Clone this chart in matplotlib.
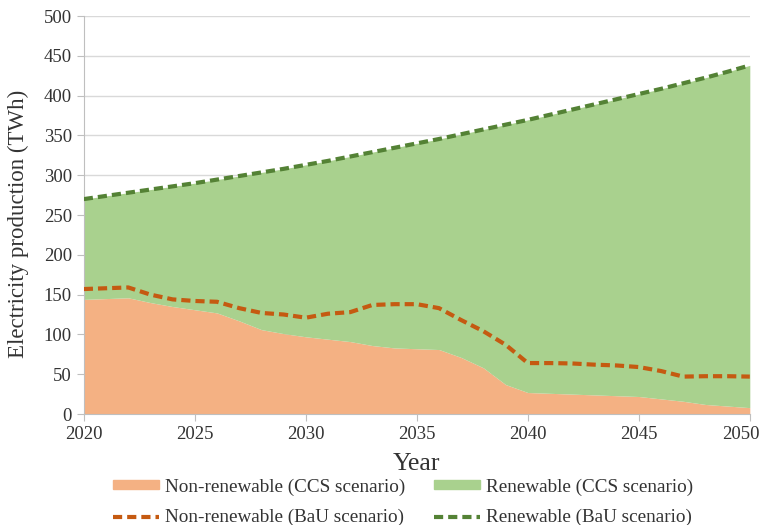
import numpy as np
import matplotlib.pyplot as plt
from matplotlib.patches import Patch
from matplotlib.lines import Line2D
from matplotlib.transforms import ScaledTranslation

plt.rcParams['font.family'] = ['Liberation Serif', 'DejaVu Serif']

# Electricity production (TWh), 2020-2050
years = np.arange(2020, 2051)

total_prod = [270, 274, 278, 282, 286, 290, 294.5, 299, 303.5, 308,
              313, 318, 323.5, 329, 334.5, 340, 345.5, 351.5, 357.5, 363.5,
              369.5, 376, 382.5, 389, 395.5, 402, 408.5, 415.5, 422.5, 430,
              438]

nonren_ccs = [144, 145, 146, 140, 135, 131, 127, 117, 106, 101,
              97, 94, 91, 86, 83, 82, 81, 71, 58, 37,
              27, 26, 25, 24, 23, 22, 19, 16, 12, 10,
              8]

nonren_bau = [157, 158, 159, 150, 144, 142, 141, 133, 127, 125,
              121, 126, 128, 137, 138, 138, 133, 118, 104, 87,
              64, 64, 63.5, 62, 61, 59, 54, 47, 47.5, 47.5,
              47]

c_nonren_area = '#F4B183'
c_ren_area = '#A9D18E'
c_nonren_line = '#C55A11'
c_ren_line = '#548235'
c_text = '#333333'
dash = (0, (2.2, 1.2))

fig = plt.figure(figsize=(7.62, 5.25), dpi=100)
ax = fig.add_axes([0.110, 0.2114, 0.874, 0.7581])

ax.fill_between(years, 0, nonren_ccs, color=c_nonren_area, lw=0, zorder=2)
ax.fill_between(years, nonren_ccs, total_prod, color=c_ren_area, lw=0, zorder=2)
ax.plot(years, nonren_bau, color=c_nonren_line, lw=3, ls=dash, zorder=3)
ax.plot(years, total_prod, color=c_ren_line, lw=3, ls=dash, zorder=3)

ax.set_xlim(2020, 2050)
ax.set_ylim(0, 500)
ax.set_xticks(range(2020, 2051, 5))
ax.set_yticks(range(0, 501, 50))
ax.yaxis.grid(True, color='#D9D9D9', lw=1, zorder=0)
ax.set_axisbelow(True)

for side in ['top', 'right']:
    ax.spines[side].set_visible(False)
for side in ['left', 'bottom']:
    ax.spines[side].set_color('#BFBFBF')
ax.tick_params(axis='both', colors='#BFBFBF', labelcolor=c_text,
               labelsize=13.5, length=5, direction='out')

# pull the last year label in so it stays inside the figure
last = ax.xaxis.get_major_ticks()[-1].label1
last.set_transform(last.get_transform() + ScaledTranslation(-0.09, 0, fig.dpi_scale_trans))

ax.set_xlabel('Year', fontsize=18.5, color=c_text, labelpad=7)
ax.set_ylabel('Electricity production (TWh)', fontsize=16.5, color=c_text)
ax.yaxis.set_label_coords(-0.083, 0.477)

handles = [
    Patch(color=c_nonren_area, label='Non-renewable (CCS scenario)'),
    Line2D([], [], color=c_nonren_line, lw=3, ls=dash,
           label='Non-renewable (BaU scenario)'),
    Patch(color=c_ren_area, label='Renewable (CCS scenario)'),
    Line2D([], [], color=c_ren_line, lw=3, ls=dash,
           label='Renewable (BaU scenario)'),
]
leg = fig.legend(handles=handles, loc='center', bbox_to_anchor=(0.529, 0.043),
                 ncol=2, frameon=False, fontsize=13.8, handlelength=2.4,
                 handleheight=0.35, handletextpad=0.3, columnspacing=1.5,
                 labelspacing=0.7, borderpad=0)
for t in leg.get_texts():
    t.set_color(c_text)

fig.savefig('out.png', dpi=100)
